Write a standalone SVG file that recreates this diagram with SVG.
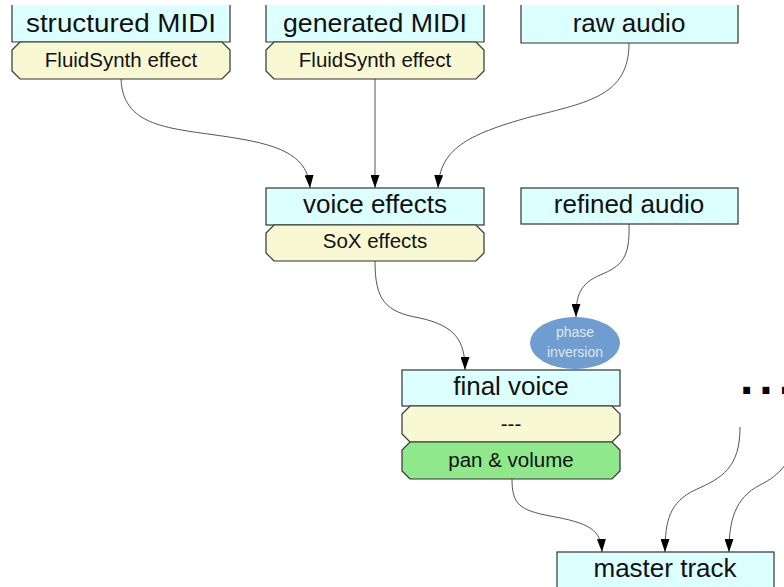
<svg xmlns="http://www.w3.org/2000/svg" width="784" height="587" viewBox="0 0 784 587">
<style>
.box{fill:#dcffff;stroke:#333;stroke-width:1.2}
.boxfill{fill:#dcffff;stroke:none}
.side{fill:none;stroke:#333;stroke-width:1.2}
.oct{fill:#f8f8d2;stroke:#333;stroke-width:1.2}
.octg{fill:#8fe88a;stroke:#333;stroke-width:1.2}
.big{font-family:"Liberation Sans",Arial,sans-serif;font-size:26px;fill:#111;text-anchor:middle}
.small{font-family:"Liberation Sans",Arial,sans-serif;font-size:20.5px;fill:#111;text-anchor:middle}
.ell{font-family:"Liberation Sans",Arial,sans-serif;font-size:14px;fill:#dde8f4;text-anchor:middle}
.edge{fill:none;stroke:#555;stroke-width:1;marker-end:url(#arr)}
</style>
<defs>
<marker id="arr" markerUnits="userSpaceOnUse" viewBox="0 0 13 9" refX="13" refY="4.5" markerWidth="13" markerHeight="9" orient="auto">
<path d="M0,0 L13,4.5 L0,9 z" fill="#000"/>
</marker>
</defs>
<rect width="784" height="587" fill="#fff"/>
<g id="edges">
<path class="edge" d="M121,79 C123,130 175,128 235,138 C285,146 308,158 310,188"/>
<path class="edge" d="M375,79 L375,188"/>
<path class="edge" d="M629,43 C629,95 590,102 530,117 C465,135 440,150 438,188"/>
<path class="edge" d="M375,261 C375,300 385,312 420,318 C455,326 465,340 465,370"/>
<path class="edge" d="M629,224 C630,258 622,266 600,275 C580,284 576,295 576,317"/>
<path class="edge" d="M512,479 C512,505 520,510 550,516 C590,523 601,530 602,552"/>
<path class="edge" d="M740,427 C740,468 722,478 695,490 C670,502 665,520 665,552"/>
<path class="edge" d="M795,430 C795,460 780,475 760,485 C735,498 729,520 729,552"/>
</g>
<g id="structured-midi">
<rect class="boxfill" x="12" y="5" width="218" height="37"/>
<path class="side" d="M12,5 L12,42 L230,42 L230,5"/>
<text class="big" x="121" y="32" textLength="190" lengthAdjust="spacingAndGlyphs">structured MIDI</text>
</g>
<g id="fluidsynth-1">
<polygon class="oct" points="20,42 222,42 230,50 230,71 222,79 20,79 12,71 12,50"/>
<text class="small" x="121" y="67">FluidSynth effect</text>
</g>
<g id="generated-midi">
<rect class="boxfill" x="266" y="5" width="218" height="37"/>
<path class="side" d="M266,5 L266,42 L484,42 L484,5"/>
<text class="big" x="375" y="32" textLength="184" lengthAdjust="spacingAndGlyphs">generated MIDI</text>
</g>
<g id="fluidsynth-2">
<polygon class="oct" points="274,42 476,42 484,50 484,71 476,79 274,79 266,71 266,50"/>
<text class="small" x="375" y="67">FluidSynth effect</text>
</g>
<g id="raw-audio">
<rect class="boxfill" x="521" y="5" width="217" height="38"/>
<path class="side" d="M521,5 L521,43 L738,43 L738,5"/>
<text class="big" x="629" y="32">raw audio</text>
</g>
<g id="voice-effects">
<rect class="box" x="266" y="188" width="218" height="37"/>
<text class="big" x="375" y="213">voice effects</text>
</g>
<g id="sox-effects">
<polygon class="oct" points="274,225 476,225 484,233 484,253 476,261 274,261 266,253 266,233"/>
<text class="small" x="375" y="248">SoX effects</text>
</g>
<g id="refined-audio">
<rect class="box" x="521" y="188" width="217" height="36"/>
<text class="big" x="629" y="213">refined audio</text>
</g>
<g id="final-voice">
<rect class="box" x="402" y="370" width="218" height="36"/>
<text class="big" x="511" y="395">final voice</text>
</g>
<g id="phase-inversion">
<ellipse cx="575" cy="343" rx="45" ry="26" fill="#709dcf"/>
<text class="ell" x="575" y="337">phase</text>
<text class="ell" x="575" y="357">inversion</text>
</g>
<g id="placeholder">
<polygon class="oct" points="410,406 612,406 620,414 620,434 612,442 410,442 402,434 402,414"/>
<text class="small" x="511" y="431">---</text>
</g>
<g id="pan-volume">
<polygon class="octg" points="410,442 612,442 620,450 620,471 612,479 410,479 402,471 402,450"/>
<text class="small" x="511" y="467">pan &amp; volume</text>
</g>
<g id="more">
<text x="740" y="394" font-family="Liberation Sans,Arial,sans-serif" font-weight="bold" font-size="48" letter-spacing="6" fill="#000">...</text>
</g>
<g id="master-track">
<rect class="box" x="557" y="552" width="217" height="40"/>
<text class="big" x="665" y="577">master track</text>
</g>
</svg>
